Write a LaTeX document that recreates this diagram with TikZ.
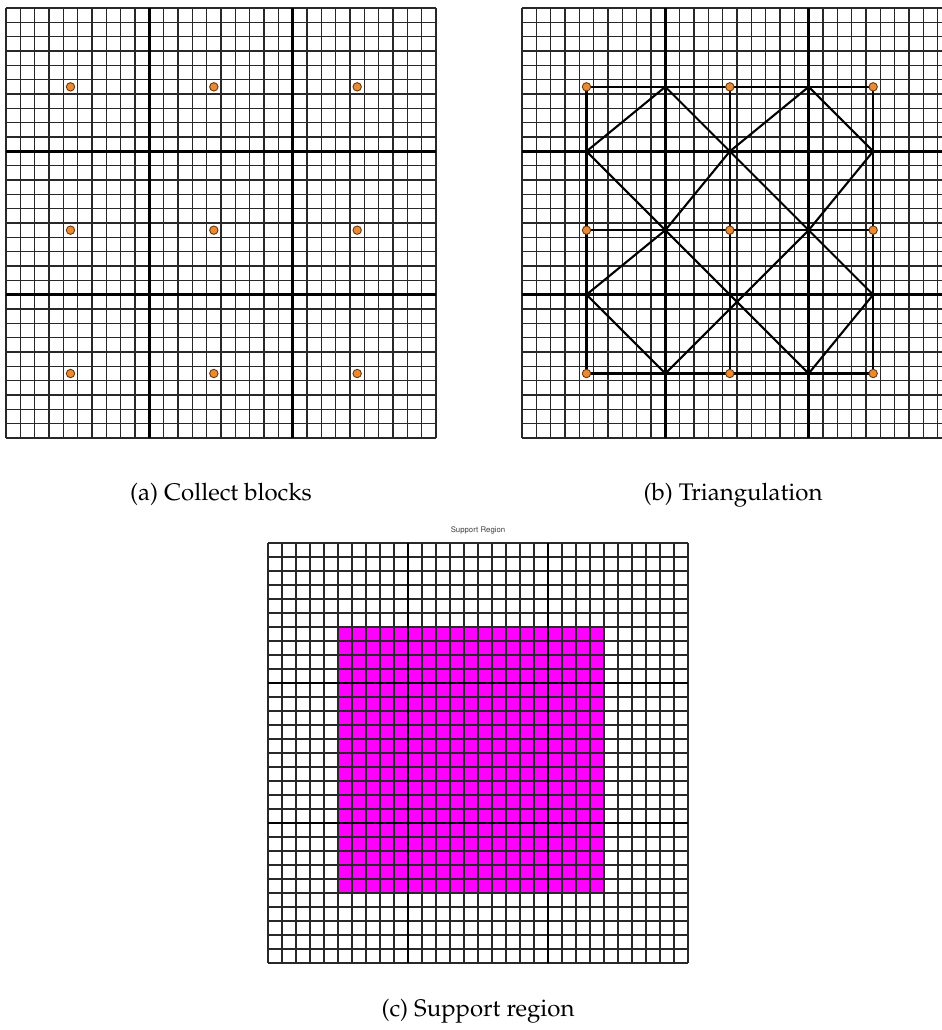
\documentclass[tikz,border=0pt]{standalone}
\usepackage[T1]{fontenc}
\usepackage{mathpazo}
\definecolor{dotfill}{RGB}{232,140,52}
\definecolor{dotline}{RGB}{110,55,10}
\definecolor{gridc}{RGB}{40,40,40}
\definecolor{supp}{RGB}{255,0,255}
\tikzset{
  gridline/.style={draw=gridc, line width=0.6pt},
  blockline/.style={draw=black, line width=1.3pt},
  triline/.style={draw=black, line width=1.05pt, line cap=round},
  blockdot/.style={circle, fill=dotfill, draw=dotline, line width=0.45pt, minimum size=4.2pt, inner sep=0pt},
  captext/.style={font=\fontsize{12}{14}\selectfont, anchor=base},
  titletext/.style={font=\fontfamily{phv}\fontsize{3.9}{5}\selectfont, text=black!75, anchor=base}
}
\begin{document}
\begin{tikzpicture}[x=0.5pt,y=-0.5pt]
\useasboundingbox (0,0) rectangle (942,1030);
\fill[white] (0,0) rectangle (942,1030);

% ---------- (a) ----------
\begin{scope}[shift={(6,8)}, x=7.1667pt, y=-7.1667pt]
  \foreach \k in {0,...,30}{
    \draw[gridline] (\k,0) -- (\k,30);
    \draw[gridline] (0,\k) -- (30,\k);
  }
  \draw[blockline] (10,0) -- (10,30) (20,0) -- (20,30) (0,10) -- (30,10) (0,20) -- (30,20);
  \foreach \i in {1,2,3}{
    \foreach \j in {1,2,3}{
      \node[blockdot] (a\i\j) at ({4.5+10*(\i-1)},{5.5+10*(\j-1)}) {};
    }
  }
\end{scope}
\node[captext] (capa) at (221,500) {(a) Collect blocks};

% ---------- (b) ----------
\begin{scope}
\clip (500,0) rectangle (942,460);
\begin{scope}[shift={(522,8)}, x=7.1667pt, y=-7.1667pt]
  \foreach \k in {0,...,30}{
    \draw[gridline] (\k,0) -- (\k,30);
    \draw[gridline] (0,\k) -- (30,\k);
  }
  \draw[blockline] (10,0) -- (10,30) (20,0) -- (20,30) (0,10) -- (30,10) (0,20) -- (30,20);
  \foreach \i in {1,2,3}{
    \foreach \j in {1,2,3}{
      \coordinate (b\i\j) at ({4.5+10*(\i-1)},{5.5+10*(\j-1)});
    }
  }
  \coordinate (t1) at (10,5.5);
  \coordinate (t2) at (20,5.5);
  \coordinate (l1) at (4.5,10);
  \coordinate (m1) at (14.5,10);
  \coordinate (r1) at (24.5,10);
  \coordinate (c1) at (10,15.5);
  \coordinate (c2) at (20,15.5);
  \coordinate (l2) at (4.5,20);
  \coordinate (r2) at (24.5,20);
  \coordinate (u1) at (10,25.5);
  \coordinate (u2) at (20,25.5);
  % rectangle lines through the dots
  \draw[triline] (b11) -- (b31) (b12) -- (b32) (b13) -- (b33);
  \draw[triline] (b11) -- (b13) (b21) -- (b23) (b31) -- (b33);
  % diagonals
  \draw[triline] (l1) -- (t1) -- (m1) -- (t2) -- (r1) -- (c2) -- (m1) -- (c1) -- cycle;
  \draw[triline] (c1) -- (l2) -- (u1);
  \draw[triline] (c2) -- (r2) -- (u2);
  \draw[triline] (c1) -- (u2) (c2) -- (u1);
  \foreach \i in {1,2,3}{
    \foreach \j in {1,2,3}{
      \node[blockdot] (bd\i\j) at (b\i\j) {};
    }
  }
\end{scope}
\end{scope}
\node[captext] (capb) at (733,500) {(b) Triangulation};

% ---------- (c) ----------
\node[titletext] (title) at (478,532) {Support Region};
\begin{scope}[shift={(268,543)}, x=7pt, y=-7pt]
  \fill[supp] (5,6) rectangle (24,25);
  \foreach \k in {0,...,30}{
    \draw[gridline] (\k,0) -- (\k,30);
    \draw[gridline] (0,\k) -- (30,\k);
  }
  \draw[blockline] (10,0) -- (10,30) (20,0) -- (20,30) (0,10) -- (30,10) (0,20) -- (30,20);
\end{scope}
\node[captext] (capc) at (478,1016) {(c) Support region};
\end{tikzpicture}
\end{document}
